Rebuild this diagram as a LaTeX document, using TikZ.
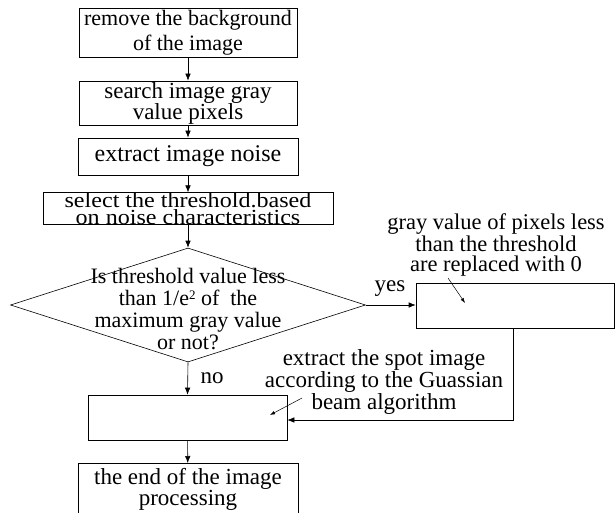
\documentclass[tikz,border=0pt]{standalone}
\usepackage{fontspec}
\setmainfont{Liberation Serif}
\newfontfamily\widefont[FakeStretch=1.12]{Liberation Serif}
\usetikzlibrary{shapes.geometric,arrows.meta}
\tikzset{
  box/.style={draw, rectangle, line width=0.6pt, inner sep=0pt, align=center,
    font=\fontsize{23}{21}\selectfont
  },
  dia/.style={draw, diamond, line width=0.6pt, inner sep=0pt
  },
  txt/.style={inner sep=0pt, align=center, font=\fontsize{23}{20}\selectfont
  },
  arr/.style={-{Latex[length=7pt,width=5.5pt]}, line width=0.6pt
  },
  ptr/.style={-{Latex[length=5pt,width=3.5pt]}, line width=0.5pt
  }
}

\begin{document}
\begin{tikzpicture}[x=1pt, y=-1pt]
  \useasboundingbox (0,0) rectangle (615,513);
  \clip (0,0) rectangle (615,513);

  % main column
  \node[box, minimum width=218pt, minimum height=49pt,
    font=\fontsize{22}{25}\selectfont] (rm) at (188,32.5)
    {remove the background\\of the image};
  \node[box, minimum width=218pt, minimum height=44pt] (search) at (188,103)
    {search image gray\\value pixels};
  \node[box, minimum width=220pt, minimum height=37pt,
    font=\fontsize{24}{21}\selectfont] (noise) at (188,156.5)
    {extract image noise};
  \node[box, minimum width=290pt, minimum height=31pt,
    font=\widefont\fontsize{21.5}{16.5}\selectfont] (thresh) at (188,208.5)
    {select the threshold.based\\on noise characteristics};
  \node[dia, minimum width=355pt, minimum height=114pt] (dec) at (188,305) {};
  \node[txt, font=\fontsize{22}{21.7}\selectfont] (dectxt) at (188,309)
    {Is threshold value less\\than 1/e{\fontsize{13}{13}\selectfont\raisebox{6pt}{2}} of \ the\\maximum gray value\\or not?};
  \node[box, minimum width=199pt, minimum height=45pt] (spot) at (187.5,417.5) {};
  \node[box, anchor=north, minimum width=220pt, inner ysep=5pt, text depth=40pt,
    font=\fontsize{23}{19}\selectfont] (end) at (188,463)
    {the end of the image\\processing};

  % right branch
  \node[box, minimum width=198pt, minimum height=45pt] (zero) at (515,305.5) {};
  \node[txt, font=\fontsize{22.5}{20}\selectfont] (zerotxt) at (496,245)
    {gray value of pixels less\\than the threshold\\are replaced with 0};
  \node[txt, font=\fontsize{23}{20}\selectfont] (spottxt) at (384,382)
    {extract the spot image\\according to the Guassian\\beam algorithm};
  \node[txt] (yes) at (390,289) {yes};
  \node[txt] (no) at (212,378) {no};

  \coordinate (p1) at (448,278);
  \coordinate (p2) at (465,303);
  \coordinate (p3) at (302,398);
  \coordinate (p4) at (270,415);

  \draw[arr] (rm) -- (search);
  \draw[arr] (search) -- (noise);
  \draw[arr] (noise) -- (thresh);
  \draw[arr] (thresh) -- (dec.north);
  \draw[arr] (dec.east) -- (zero.west |- dec.east);
  \draw[arr] (dec.south) -- (spot.north);
  \draw[arr] ([xshift=-2pt]zero.south) |- ([yshift=-2.5pt]spot.east);
  \draw[arr] (spot) -- (end);
  \draw[ptr] (p1) -- (p2);
  \draw[ptr] (p3) -- (p4);
\end{tikzpicture}
\end{document}
